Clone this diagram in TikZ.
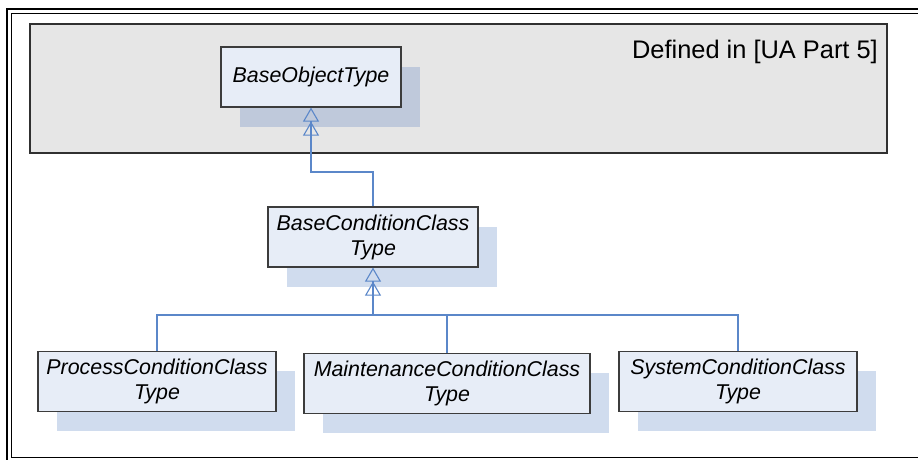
\documentclass[tikz,border=0pt]{standalone}
\usepackage{fontspec}
\setmainfont{Liberation Sans}
\usetikzlibrary{arrows.meta,shadows}
\definecolor{boxfill}{HTML}{E7EDF7}
\definecolor{boxline}{HTML}{3C3C3C}
\definecolor{shadowc}{HTML}{D0DCEE}
\definecolor{shadowg}{HTML}{BFC9DB}
\definecolor{greyfill}{HTML}{E6E6E6}
\definecolor{greyline}{HTML}{303030}
\definecolor{conn}{HTML}{5B87C9}
\begin{document}
\begin{tikzpicture}[x=1pt,y=-1pt,
  cls/.style={draw=boxline, line width=1.2pt, fill=boxfill, minimum height=60pt,
    inner sep=0pt, align=center, font=\itshape\fontsize{21.4}{25}\selectfont,
    drop shadow={shadow xshift=18.5pt, shadow yshift=-19.5pt, fill=shadowc, opacity=1, draw=none}},
  clsg/.style={cls, drop shadow={shadow xshift=18.5pt, shadow yshift=-19.5pt, fill=shadowg, opacity=1, draw=none}},
  gen/.style={draw=conn, line width=1.1pt},
  genarrow/.style={gen, -{Triangle[open,length=14pt,width=16pt] Triangle[open,length=14pt,width=16pt]}},
  ]
\useasboundingbox (0,0) rectangle (918,459);
\begin{scope}
\clip (0,0) rectangle (918,459);
\draw[line width=2.5pt] (7,9) rectangle (940,480);
\draw[line width=1pt] (11,13) rectangle (935,457.5);
\end{scope}
% grey region
\node[draw=greyline, line width=1.2pt, fill=greyfill, minimum width=857pt, minimum height=129pt, inner sep=0pt] (area) at (458.5,88.5) {};
\node[anchor=base east, font=\fontsize{25.4}{29}\selectfont, inner sep=0pt] (deflabel) at (878,58) {Defined in [UA Part 5]};
% classes
\node[clsg, minimum width=180pt] (bot) at (311,77) {BaseObjectType};
\node[cls, minimum width=210pt] (bcc) at (373,237) {BaseConditionClass\\Type};
\node[cls, minimum width=238pt] (pct) at (157,381.5) {ProcessConditionClass\\Type};
\node[cls, minimum width=286pt] (mct) at (447,383.5) {MaintenanceConditionClass\\Type};
\node[cls, minimum width=238pt] (sct) at (738,381.5) {SystemConditionClass\\Type};
% connectors
\coordinate (j1) at (373,172);
\coordinate (j2) at (373,315);
\draw[genarrow] (bcc.north) -- (j1) -| (bot.south);
\draw[gen] (pct.north) |- (j2);
\draw[gen] (mct.north) |- (j2);
\draw[gen] (sct.north) |- (j2);
\draw[genarrow] (j2) -- (bcc.south);
\end{tikzpicture}
\end{document}
